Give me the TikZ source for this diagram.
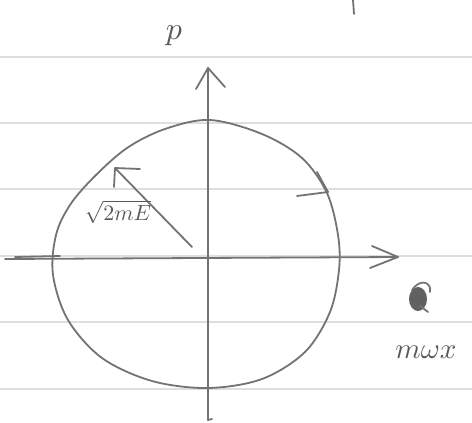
\documentclass[tikz,border=0pt]{standalone}
\begin{document}
\begin{tikzpicture}[x=1pt,y=-1pt,
  pencil/.style={draw=black!55, line width=1.8pt, line cap=round, line join=round},
  ruling/.style={draw=black!13, line width=1.2pt},
  lbl/.style={text=black!65, inner sep=0pt}]
\useasboundingbox (0,0) rectangle (472,423);
\fill[white] (0,0) rectangle (472,423);
% ruled paper
\foreach \yy in {57,123,189,256,322,389}
  \draw[ruling] (0,\yy) -- (472,\yy);
% coordinates
\coordinate (ptop) at (208,68);
\coordinate (pbot) at (208,420);
\coordinate (xleft) at (5,259);
\coordinate (xright) at (398,257);
% axes
\draw[pencil] (pbot) -- (ptop);
\draw[pencil] (pbot) -- ++(4,-1);
\draw[pencil] (196,89) -- (ptop) -- (225,87);
\draw[pencil] (xleft) -- (xright);
\draw[pencil] (15,257) -- (60,256);
\draw[pencil] (372,246) -- (xright) -- (370,268);
% orbit
\draw[pencil] plot[smooth cycle, tension=0.55] coordinates {
  (210,120) (262,134) (302,158) (327,193) (338,235) (339,270) (330,312)
  (305,352) (262,379) (208,388) (152,381) (102,358) (68,320) (53,275)
  (56,235) (70,205) (94,177) (127,148) (165,129)};
% direction arrow
\coordinate (dir) at (328,192);
\draw[pencil] (317,172) -- (dir) -- (297,196);
% radius arrow
\coordinate (rtip) at (115,168);
\coordinate (rend) at (192,247);
\draw[pencil] (rend) -- (rtip);
\draw[pencil] (140,169) -- (rtip) -- (114,187);
\node[lbl, scale=2.2] (rlabel) at (118,212) {$\sqrt{2mE}$};
% labels
\node[lbl, scale=3.2] (plabel) at (174,36) {$p$};
\node[lbl, scale=2.9] (xlabel) at (426,352) {$m\omega x$};
% crossed-out scribble
\fill[black!62] (418,299) ellipse (9 and 12);
\draw[pencil] (412,290) .. controls (420,278) and (432,282) .. (430,292);
\draw[pencil] (420,306) -- (428,312);
% stray stroke at top
\draw[pencil] (353,0) -- (354,14);
\end{tikzpicture}
\end{document}
